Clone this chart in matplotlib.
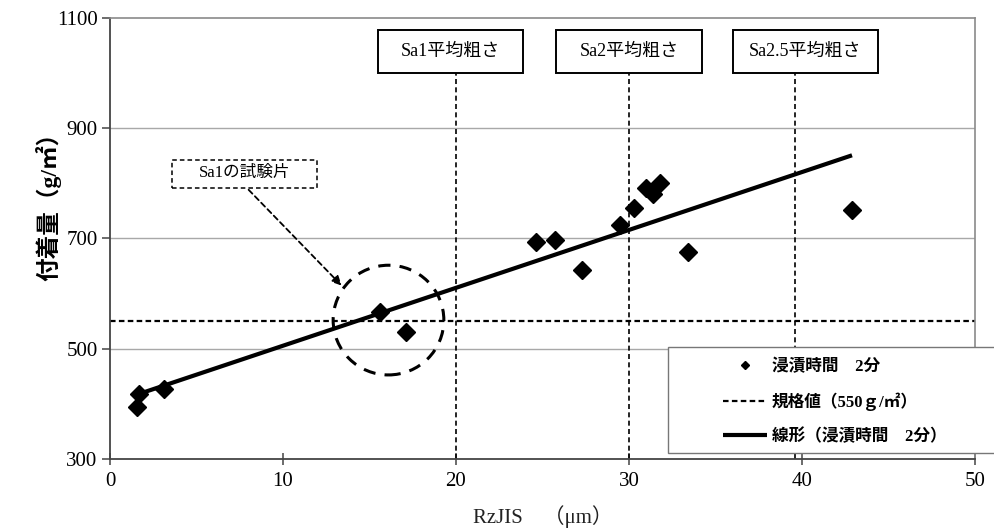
import numpy as np
import matplotlib
matplotlib.use('Agg')
import matplotlib.pyplot as plt
from matplotlib.patches import Rectangle, Ellipse

plt.rcParams['font.family'] = ['Liberation Serif', 'Noto Sans CJK JP']

# data: Rz JIS (um) vs coating weight (g/m2), 2 min dip
rz = [1.57, 1.68, 3.13, 15.6, 17.1, 24.65, 25.7, 27.3, 29.5, 30.3, 31.0, 31.4, 31.8, 33.4, 42.9]
weight = [394, 418, 427, 566, 530, 693, 698, 642, 725, 756, 792, 781, 801, 676, 752]
spec_value = 550
sa_positions = [20, 30, 39.6]
sa_labels = ['Sa1平均粗さ', 'Sa2平均粗さ', 'Sa2.5平均粗さ']
sa_box_centers = [19.7, 30.0, 40.2]
legend_labels = ['浸漬時間　2分', '規格値（550ｇ/㎡）', '線形（浸漬時間　2分）']

fig = plt.figure(figsize=(9.94, 5.31), dpi=100)
ax = fig.add_axes([0.1107, 0.1356, 0.870, 0.8305])
ax.set_xlim(0, 50)
ax.set_ylim(300, 1100)

# grid
for yv in [500, 700, 900]:
	ax.axhline(yv, color='#a8a8a8', lw=1.0, zorder=0)

# trend line (linear fit)
k, b = np.polyfit(rz, weight, 1)
xf = np.array([min(rz), max(rz)])
trend, = ax.plot(xf, k * xf + b, color='black', lw=3, solid_capstyle='butt', zorder=3)

pts, = ax.plot(rz, weight, 'D', color='black', ms=9, zorder=4, ls='none')

spec = ax.axhline(spec_value, color='black', lw=1.6, ls=(0, (2.5, 1.5)), zorder=2)

# vertical Sa lines and labels
box_w = 8.4
for xv, lab, xc in zip(sa_positions, sa_labels, sa_box_centers):
	ax.plot([xv, xv], [300, 1000], color='black', lw=1.2, ls=(0, (3, 2)), zorder=2)
	ax.add_patch(Rectangle((xc - box_w / 2, 1000), box_w, 78, fc='white', ec='black',
		lw=1.4, zorder=5))
	ax.text(xc, 1039, lab, ha='center', va='center', fontsize=13, zorder=6)

# Sa1 test piece annotation
ax.add_patch(Rectangle((3.6, 792), 8.35, 51, fc='white', ec='black', lw=1.1,
	ls=(0, (3, 2)), zorder=5))
ax.text(7.77, 818, 'Sa1の試験片', ha='center', va='center', fontsize=12, zorder=6)
ax.annotate('', xy=(13.5, 611), xytext=(7.9, 792),
	arrowprops=dict(arrowstyle='-|>', color='black', lw=1.3, ls=(0, (3, 2)),
		mutation_scale=14))
ax.add_patch(Ellipse((16.1, 552), 6.4, 199, fill=False, ec='black', lw=2.2,
	ls=(0, (4, 3)), zorder=5))

# axes styling
for s in ['left', 'bottom']:
	ax.spines[s].set_color('#444444')
	ax.spines[s].set_linewidth(1.3)
for s in ['top', 'right']:
	ax.spines[s].set_color('#8a8a8a')
	ax.spines[s].set_linewidth(1.2)
ax.set_xticks(range(0, 51, 10))
ax.set_yticks(range(300, 1101, 200))
ax.tick_params(axis='x', direction='inout', length=9, width=1.1, color='#444444',
	labelsize=15, pad=5)
ax.tick_params(axis='y', direction='out', length=6, width=1.1, color='#444444',
	labelsize=15, pad=3)

ax.set_xlabel('RzJIS　（μm）', fontsize=15, labelpad=10, color='#222222')
ax.set_ylabel('付着量（g/㎡）', fontsize=17, fontweight='bold')
ax.yaxis.set_label_coords(-0.056, 0.585)

# legend: frame drawn separately so that it runs off the right edge
ax.add_patch(Rectangle((668 / 994, 1 - 453 / 531), 0.4, 106 / 531, transform=fig.transFigure,
	fc='white', ec='#777777', lw=1.0, clip_on=False, zorder=6))
leg = ax.legend([pts, spec, trend], legend_labels, loc='upper left',
	bbox_to_anchor=(723 / 994, 1 - 359 / 531), bbox_transform=fig.transFigure,
	frameon=False, borderpad=0, borderaxespad=0,
	markerscale=0.5, handlelength=2.64, handletextpad=0.3, labelspacing=1.05,
	prop={'family': ['Liberation Serif', 'Noto Sans CJK JP'], 'size': 12, 'weight': 'bold'})
leg.set_zorder(7)

fig.savefig('out.png', dpi=100)
